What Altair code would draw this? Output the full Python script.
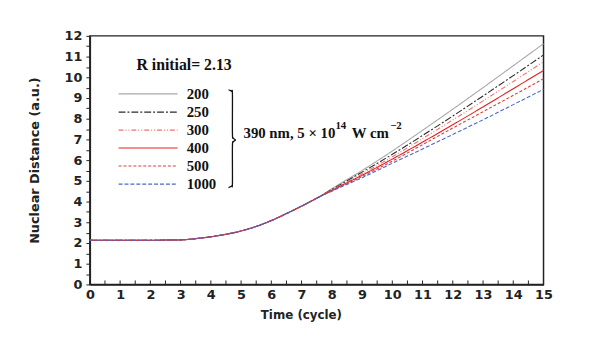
import altair as alt
import pandas as pd

# ---- data ----
series_names = ["200", "250", "300", "400", "500", "1000"]

time_early = [0, 1, 2, 2.5, 3, 3.5, 4, 4.5, 5, 5.5, 6, 6.5, 7, 7.5]
r_early = [2.13, 2.13, 2.13, 2.14, 2.15, 2.21, 2.30, 2.42, 2.58, 2.80, 3.08, 3.42, 3.78, 4.16]

time_late = [8, 9, 10, 11, 12, 13, 14, 15]
r_200 = [4.62, 5.50, 6.44, 7.44, 8.46, 9.50, 10.56, 11.62]
r_250 = [4.58, 5.42, 6.28, 7.19, 8.13, 9.10, 10.08, 11.08]
r_300 = [4.56, 5.34, 6.16, 7.04, 7.94, 8.86, 9.80, 10.75]
r_400 = [4.54, 5.27, 6.05, 6.87, 7.71, 8.57, 9.45, 10.33]
r_500 = [4.52, 5.21, 5.95, 6.75, 7.55, 8.34, 9.13, 9.93]
r_1000 = [4.50, 5.15, 5.85, 6.54, 7.24, 7.95, 8.68, 9.42]

x_labels = list(range(16))
y_labels = list(range(13))

legend_title = "R initial= 2.13"
note_main1 = "390 nm, 5 \u00d7 10"
note_sup1 = "14"
note_main2 = "W cm"
note_sup2 = "\u22122"

# ---- styles ----
color_range = ["#a8a8a8", "#2a2a2a", "#f07070", "#e41e1e", "#e23a3a", "#4a68c8"]
dash_range = [[1, 0], [7, 2, 2, 2], [5, 2, 1, 2, 1, 2], [1, 0], [3, 2], [4, 2]]

rows = []
for name, late in zip(series_names, [r_200, r_250, r_300, r_400, r_500, r_1000]):
    for t, r in zip(time_early, r_early):
        rows.append({"series": name, "t": t, "r": r})
    for t, r in zip(time_late, late):
        rows.append({"series": name, "t": t, "r": r})
df = pd.DataFrame(rows)

# annotation placement (data coordinates)
legend_rows_r = [9.20, 8.32, 7.45, 6.59, 5.72, 4.84]
legend_line_t = [0.95, 2.90]
legend_label_t = 3.20
leg_rows = []
for name, rr in zip(series_names, legend_rows_r):
    for tt in legend_line_t:
        leg_rows.append({"series": name, "t": tt, "r": rr})
leg_df = pd.DataFrame(leg_rows)
leg_lab_df = pd.DataFrame({"series": series_names, "t": [legend_label_t] * 6, "r": legend_rows_r})

brace_t = [4.584, 4.682, 4.714, 4.714, 4.747, 4.812, 4.747, 4.714, 4.714, 4.682, 4.584]
brace_r = [9.399, 9.327, 9.184, 7.276, 7.061, 6.975, 6.894, 6.679, 4.890, 4.747, 4.676]
brace_df = pd.DataFrame({"t": brace_t, "r": brace_r, "o": list(range(len(brace_t)))})

W, H = 460, 252
xscale = alt.Scale(domain=[0, 15], nice=False, zero=False)
yscale = alt.Scale(domain=[0, 12], nice=False)
cscale = alt.Scale(domain=series_names, range=color_range)
dscale = alt.Scale(domain=series_names, range=dash_range)

SANS = "DejaVu Sans"
SERIF = "Liberation Serif"

x_axis = alt.Axis(values=x_labels, tickSize=0, labelPadding=4, grid=False,
                  labelOverlap=False, labelBound=False, format="d",
                  title="Time (cycle)", labelFont=SANS, labelFontWeight="bold",
                  labelFontSize=13, labelColor="#222", titleFont=SANS,
                  titleFontWeight="bold", titleFontSize=12, titleColor="#222",
                  titleX=214, titleY=31, titleBaseline="middle",
                  domainColor="#222", domainWidth=1.5, labelFlush=False)
y_axis = alt.Axis(values=[v / 2 for v in range(25)],
                  labelExpr="datum.value % 1 == 0 ? '' + datum.value : ''",
                  labelOverlap=False, labelBound=False,
                  tickSize=4, tickColor="#222", labelPadding=4, grid=False,
                  title="Nuclear Distance (a.u.)", labelFont=SANS,
                  labelFontWeight="bold", labelFontSize=13, labelColor="#222",
                  titleFont=SANS, titleFontWeight="bold", titleFontSize=13,
                  titleColor="#222", titleX=-56, titleY=126, titleAngle=-90,
                  titleBaseline="middle", titleAlign="center",
                  domainColor="#222", domainWidth=1.5, labelFlush=False)


def X():
    return alt.X("t:Q", scale=xscale, axis=x_axis)


def Y():
    return alt.Y("r:Q", scale=yscale, axis=y_axis)


lines = alt.Chart(df).mark_line(strokeWidth=1.1, interpolate="monotone").encode(
    x=X(), y=Y(),
    color=alt.Color("series:N", scale=cscale, legend=None),
    strokeDash=alt.StrokeDash("series:N", scale=dscale, legend=None),
)

xt_df = pd.DataFrame({"t": [v / 2 for v in range(31)]})
xticks = alt.Chart(xt_df).mark_rule(color="#222", strokeWidth=1).encode(
    x=X(), y=alt.value(H - 4), y2=alt.value(H),
)

leg_lines = alt.Chart(leg_df).mark_line(strokeWidth=1.1).encode(
    x=X(), y=Y(),
    color=alt.Color("series:N", scale=cscale, legend=None),
    strokeDash=alt.StrokeDash("series:N", scale=dscale, legend=None),
)

leg_labels = alt.Chart(leg_lab_df).mark_text(
    align="left", baseline="middle", font=SERIF, fontWeight="bold",
    fontSize=15, color="#111").encode(x=X(), y=Y(), text="series:N")

notes_df = pd.DataFrame({
    "txt": [legend_title, note_main1, note_sup1, note_main2, note_sup2],
    "t": [1.54, 5.08, 8.12, 8.66, 9.93],
    "r": [10.57, 7.32, 7.63, 7.32, 7.63],
    "size": [16, 15, 11, 15, 11],
})
notes = alt.Chart(notes_df).mark_text(
    align="left", baseline="middle", font=SERIF, fontWeight="bold",
    color="#111").encode(
    x=X(), y=Y(), text="txt:N",
    size=alt.Size("size:Q", scale=None, legend=None))

brace = alt.Chart(brace_df).mark_line(color="#111", strokeWidth=1.3,
                                      interpolate="cardinal").encode(
    x=X(), y=Y(), order="o:Q")

chart = alt.layer(lines, xticks, leg_lines, leg_labels, notes, brace).properties(
    width=W, height=H,
    autosize=alt.AutoSizeParams(type="none"),
    padding={"left": 83, "top": 26, "right": 38, "bottom": 46},
    background="white",
).configure_view(stroke="#222", strokeWidth=1.5)

chart.save("out.html", embed_options={"renderer": "svg", "actions": False})
